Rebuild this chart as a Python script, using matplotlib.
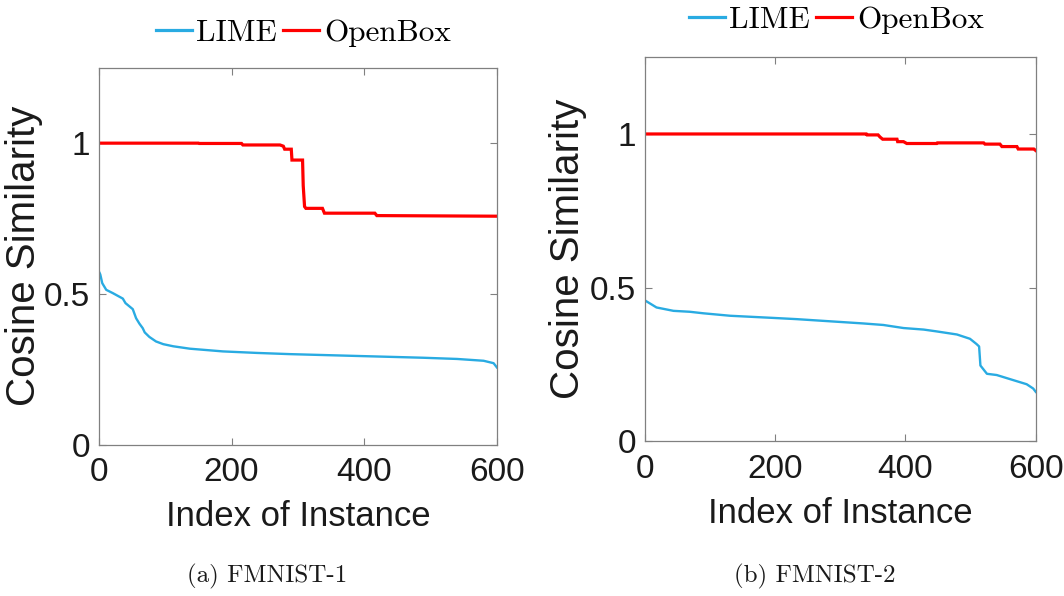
import matplotlib
matplotlib.use("Agg")
import matplotlib.pyplot as plt
from matplotlib.lines import Line2D

# FMNIST-1
lime1_x = [1, 2, 5, 11, 21, 36, 40, 51, 56, 61, 66, 69, 76, 86, 97, 112, 137, 187,
           238, 288, 338, 388, 439, 489, 540, 580, 595, 600]
lime1_y = [0.570, 0.565, 0.536, 0.514, 0.503, 0.485, 0.470, 0.450, 0.420, 0.402,
           0.387, 0.373, 0.358, 0.343, 0.334, 0.327, 0.319, 0.310, 0.305, 0.301,
           0.298, 0.295, 0.292, 0.289, 0.285, 0.279, 0.271, 0.257]
open1_x = [1, 150, 151, 215, 217, 273, 278, 280, 290, 291, 307, 308, 310, 312, 337,
           340, 416, 419, 600]
open1_y = [1.000, 1.000, 0.999, 0.999, 0.994, 0.994, 0.990, 0.980, 0.980, 0.944,
           0.944, 0.859, 0.790, 0.784, 0.784, 0.768, 0.768, 0.760, 0.758]

# FMNIST-2
lime2_x = [1, 8, 18, 44, 69, 90, 131, 197, 233, 284, 335, 366, 397, 428, 448, 479,
           499, 509, 513, 515, 525, 540, 566, 586, 596, 600]
lime2_y = [0.457, 0.448, 0.435, 0.424, 0.421, 0.416, 0.408, 0.401, 0.397, 0.390,
           0.383, 0.378, 0.368, 0.363, 0.357, 0.347, 0.333, 0.316, 0.308, 0.246,
           0.219, 0.215, 0.198, 0.185, 0.171, 0.160]
open2_x = [1, 340, 341, 358, 361, 365, 387, 388, 397, 402, 448, 449, 520, 522, 545,
           548, 571, 573, 597, 600]
open2_y = [1.000, 1.000, 0.997, 0.997, 0.990, 0.983, 0.983, 0.975, 0.975, 0.969,
           0.969, 0.971, 0.971, 0.967, 0.967, 0.959, 0.959, 0.951, 0.951, 0.946]

series_names = ["LIME", "OpenBox"]
captions = ["(a) FMNIST-1", "(b) FMNIST-2"]
x_ticks = [0, 200, 400, 600]
y_ticks = [0, 0.5, 1]
y_tick_labels = ["0", "0.5", "1"]

LIME_C = "#29abe2"
OPEN_C = "#ff0000"
SPINE_C = "#808080"
SANS = ["Liberation Sans", "DejaVu Sans"]
SERIF = ["cmr10", "DejaVu Serif"]

plt.rcParams["axes.unicode_minus"] = False

fig = plt.figure(figsize=(10.64, 5.96), dpi=100)

# axes rectangles in figure fractions
rects = [[0.093, 0.2534, 0.374, 0.633],
         [0.606, 0.260, 0.3675, 0.644]]
legend_pos = [(0.285, 0.944), (0.786, 0.966)]
caption_pos = [0.251, 0.766]
ylabel_x = [-0.14, -0.148]
data = [(lime1_x, lime1_y, open1_x, open1_y),
        (lime2_x, lime2_y, open2_x, open2_y)]

for i, rect in enumerate(rects):
    ax = fig.add_axes(rect)
    lx, ly, ox, oy = data[i]
    ax.plot(lx, ly, color=LIME_C, lw=1.7, solid_joinstyle="round")
    ax.plot(ox, oy, color=OPEN_C, lw=2.3, solid_joinstyle="miter")

    ax.set_xlim(0, 600)
    ax.set_ylim(0, 1.25)
    ax.set_xticks(x_ticks)
    ax.set_yticks(y_ticks)
    ax.set_yticklabels(y_tick_labels)
    for sp in ax.spines.values():
        sp.set_color(SPINE_C)
        sp.set_linewidth(0.9)
    ax.tick_params(direction="in", length=5, width=0.8, color=SPINE_C,
                   top=True, right=True, labelcolor="#1a1a1a")
    ax.tick_params(axis="x", pad=9)
    ax.tick_params(axis="y", pad=6.5)
    for lab in ax.get_xticklabels() + ax.get_yticklabels():
        lab.set_family(SANS)
        lab.set_fontsize(24)

    ax.set_xlabel("Index of Instance", family=SANS, fontsize=25, color="#1a1a1a")
    ax.xaxis.set_label_coords(0.5, -0.145)
    ax.set_ylabel("Cosine Similarity", family=SANS, fontsize=29, color="#1a1a1a")
    ax.yaxis.set_label_coords(ylabel_x[i], 0.5)

    handles = [Line2D([], [], color=LIME_C, lw=2.3),
               Line2D([], [], color=OPEN_C, lw=2.3)]
    fig.legend(handles, series_names, loc="center", ncol=2,
               bbox_to_anchor=legend_pos[i], frameon=False,
               prop={"family": SERIF, "size": 22.5},
               handlelength=1.15, handletextpad=0.15, columnspacing=0.2,
               borderpad=0.1)

    fig.text(caption_pos[i], 0.032, captions[i], family=SERIF, fontsize=18,
             ha="center", va="center", color="#1a1a1a")

fig.savefig("out.png", dpi=100, facecolor="white")
